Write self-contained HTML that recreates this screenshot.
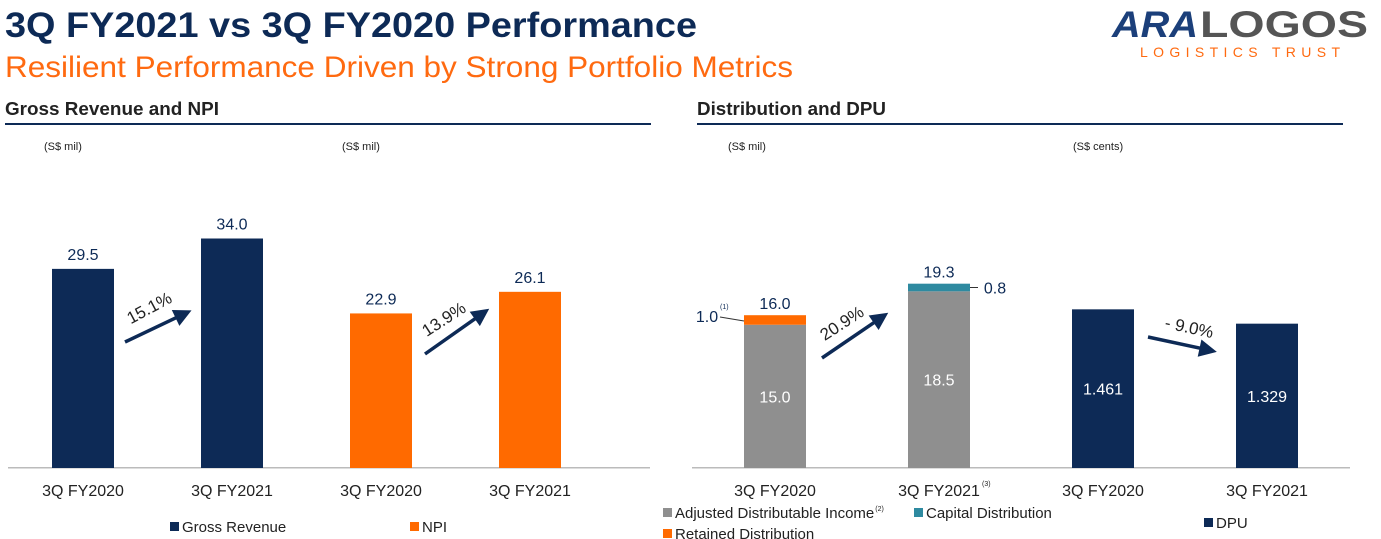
<!DOCTYPE html>
<html><head><meta charset="utf-8">
<style>
body{margin:0;width:1381px;height:539px;overflow:hidden;background:#fff;font-family:"Liberation Sans",Arial,sans-serif;}
svg{position:absolute;left:0;top:0}
</style></head><body>
<svg id="s" width="1381" height="539" xmlns="http://www.w3.org/2000/svg" font-family="Liberation Sans, Arial, sans-serif">
<text x="5" y="37" font-size="35" font-weight="bold" fill="#0d2a56" textLength="692" lengthAdjust="spacingAndGlyphs">3Q FY2021 vs 3Q FY2020 Performance</text>
<text x="5" y="77" font-size="30" fill="#ff6a10" textLength="788" lengthAdjust="spacingAndGlyphs">Resilient Performance Driven by Strong Portfolio Metrics</text>
<g>
<text x="1112" y="37" font-size="37" font-weight="bold" font-style="italic" fill="#1b3f7a" textLength="86" lengthAdjust="spacingAndGlyphs">ARA</text>
<text x="1200" y="37" font-size="37" font-weight="bold" fill="#555" textLength="168" lengthAdjust="spacingAndGlyphs">LOGOS</text>
<text x="1140" y="57" font-size="14" fill="#ff6a10" textLength="200" lengthAdjust="spacing">LOGISTICS TRUST</text>
</g>
<text x="5" y="115" font-size="18" font-weight="bold" fill="#222" textLength="214" lengthAdjust="spacingAndGlyphs">Gross Revenue and NPI</text>
<rect x="5" y="123" width="646" height="2" fill="#0d2a56"/>
<text x="697" y="115" font-size="18" font-weight="bold" fill="#222" textLength="189" lengthAdjust="spacingAndGlyphs">Distribution and DPU</text>
<rect x="697" y="123" width="646" height="2" fill="#0d2a56"/>
<text x="44" y="150" font-size="11" fill="#222">(S$ mil)</text>
<text x="342" y="150" font-size="11" fill="#222">(S$ mil)</text>
<text x="728" y="150" font-size="11" fill="#222">(S$ mil)</text>
<text x="1073" y="150" font-size="11" fill="#222">(S$ cents)</text>
<rect x="8" y="467" width="642" height="1.5" fill="#bbb"/>
<rect x="692" y="467" width="658" height="1.5" fill="#bbb"/>
<g id="g"></g>
</svg>
<script>
const NAVY="#0d2a56",ORANGE="#ff6a00",GREY="#8f8f8f",TEAL="#2e8aa0";
const categories=["3Q FY2020","3Q FY2021"];
const grossRevenue=[29.5,34.0];
const npi=[22.9,26.1];
const adjDistIncome=[15.0,18.5];
const retainedDist=[1.0,0];
const capitalDist=[0,0.8];
const totalDist=[16.0,19.3];
const dpu=[1.461,1.329];
const changes=["15.1%","13.9%","20.9%","- 9.0%"];

const NS="http://www.w3.org/2000/svg",g=document.getElementById('g');
const BASE=468;
function el(t,a,txt){const e=document.createElementNS(NS,t);for(const k in a)e.setAttribute(k,a[k]);if(txt!==undefined)e.textContent=txt;g.appendChild(e);return e;}
const yL=v=>BASE-v*6.75, yD=v=>BASE-v*9.55, yP=v=>BASE-v*108.6;
function lbl(x,y,t,name,fill,size){const e=el('text',{x:x,y:y,'font-size':size||16,'text-anchor':'middle',fill:fill||NAVY},t);

return e;}
function bar(x,y0,y1,fill,name){const e=el('rect',{x:x,y:y1,width:62,height:y0-y1,fill:fill});

return e;}
function arrow(x1,y1,x2,y2,name){const a=Math.atan2(y2-y1,x2-x1),L=12,W=6;
const bx=x2-L*Math.cos(a),by=y2-L*Math.sin(a);
const p=el('path',{d:`M${x1},${y1}L${bx},${by}M${x2},${y2}L${bx-W*Math.sin(a)},${by+W*Math.cos(a)}L${bx+W*Math.sin(a)},${by-W*Math.cos(a)}Z`,stroke:NAVY,'stroke-width':3.5,fill:NAVY});

}
const grX=[52,201],npiX=[350,499];
grossRevenue.forEach((v,i)=>{bar(grX[i],BASE,yL(v),NAVY,'gross-revenue-bar-'+i);lbl(grX[i]+31,yL(v)-9,v.toFixed(1),'gross-revenue-value-'+i);});
npi.forEach((v,i)=>{bar(npiX[i],BASE,yL(v),ORANGE,'npi-bar-'+i);lbl(npiX[i]+31,yL(v)-9,v.toFixed(1),'npi-value-'+i);});
[grX[0],grX[1],npiX[0],npiX[1]].forEach((x,i)=>lbl(x+31,496,categories[i%2],'left-x-label-'+i,'#222',16));
arrow(125,342,188,312,'gr-change-arrow');
let t=lbl(152,313,changes[0],'gr-change-label','#222',17);t.setAttribute('transform','rotate(-28 152 313)');
arrow(425,354,486,311,'npi-change-arrow');
t=lbl(447,324,changes[1],'npi-change-label','#222',17);t.setAttribute('transform','rotate(-33 447 324)');
const dX=[744,908],pX=[1072,1236];
adjDistIncome.forEach((v,i)=>{bar(dX[i],BASE,yD(v),GREY,'adj-dist-income-bar-'+i);lbl(dX[i]+31,(BASE+yD(v))/2+6,v.toFixed(1),'adj-dist-income-value-'+i,'#fff');});
retainedDist.forEach((v,i)=>{if(v>0)bar(dX[i],yD(adjDistIncome[i]),yD(adjDistIncome[i]+v),ORANGE,'retained-dist-bar-'+i);});
capitalDist.forEach((v,i)=>{if(v>0)bar(dX[i],yD(adjDistIncome[i]),yD(adjDistIncome[i]+v),TEAL,'capital-dist-bar-'+i);});
totalDist.forEach((v,i)=>lbl(dX[i]+31,yD(adjDistIncome[i]+retainedDist[i]+capitalDist[i])-6,v.toFixed(1),'total-dist-value-'+i));
let ry=yD(adjDistIncome[0]+retainedDist[0]/2);
el('path',{d:`M720,${ry-3}L744,${ry+1}`,stroke:'#333','stroke-width':1,fill:'none'});
t=lbl(707,ry+2,retainedDist[0].toFixed(1),'retained-dist-value','#0d2a56',16);
el('text',{x:720,y:ry-11,'font-size':7,fill:NAVY},'(1)');
let cy=yD(adjDistIncome[1]+capitalDist[1]/2);
el('path',{d:`M970,${cy}L978,${cy}`,stroke:'#333','stroke-width':1});
t=lbl(995,cy+6,capitalDist[1].toFixed(1),'capital-dist-value',NAVY,16);
dpu.forEach((v,i)=>{bar(pX[i],BASE,yP(v),NAVY,'dpu-bar-'+i);lbl(pX[i]+31,(BASE+yP(v))/2+6,v.toFixed(3),'dpu-value-'+i,'#fff',16);});
[dX[0],dX[1],pX[0],pX[1]].forEach((x,i)=>lbl(x+31,496,categories[i%2],'right-x-label-'+i,'#222',16));
el('text',{x:982,y:486,'font-size':7,fill:'#222'},'(3)');
arrow(822,358,885,315,'dist-change-arrow');
t=lbl(845,328,changes[2],'dist-change-label','#222',17);t.setAttribute('transform','rotate(-33 845 328)');
arrow(1148,337,1213,351,'dpu-change-arrow');
t=lbl(1188,333,changes[3],'dpu-change-label','#222',17);t.setAttribute('transform','rotate(12 1188 333)');
function leg(x,y,c,txt,name,sup){const r=el('rect',{x:x,y:y-10,width:9,height:9,fill:c});
const tx=el('text',{x:x+12,y:y,'font-size':15,fill:'#222'},txt);


if(sup)el('text',{x:x+12+tx.getComputedTextLength()+1,y:y-7,'font-size':7,fill:'#222'},sup);}
leg(170,532,NAVY,'Gross Revenue','legend-gross-revenue');
leg(410,532,ORANGE,'NPI','legend-npi');
leg(663,518,GREY,'Adjusted Distributable Income','legend-adj-dist-income','(2)');
leg(914,518,TEAL,'Capital Distribution','legend-capital-dist');
leg(1204,528,NAVY,'DPU','legend-dpu');
leg(663,539,ORANGE,'Retained Distribution','legend-retained-dist');
</script>
</body></html>
